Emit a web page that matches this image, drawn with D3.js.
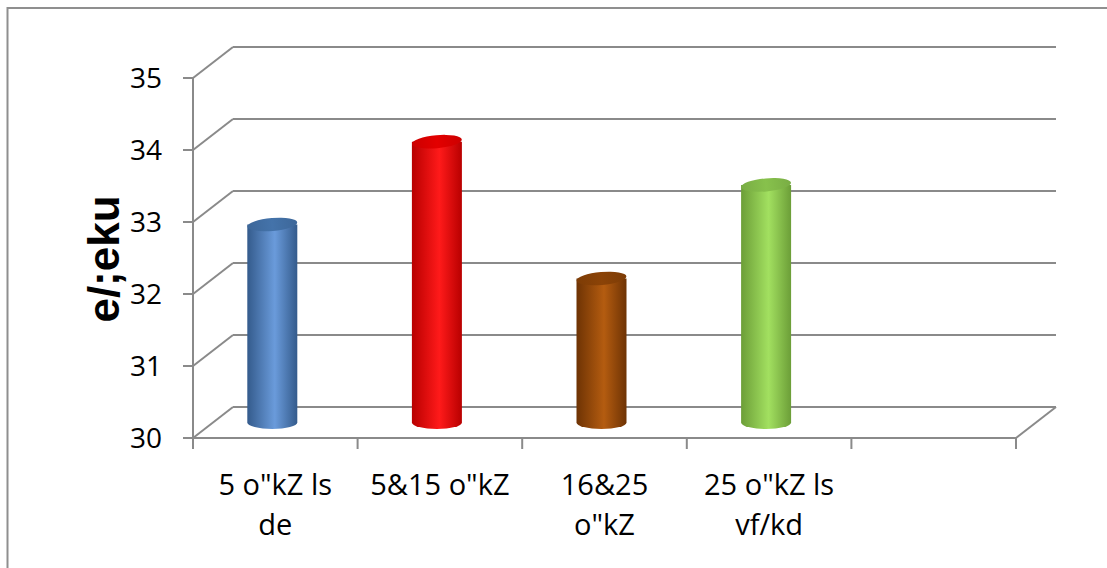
<!DOCTYPE html>
<html><head><meta charset="utf-8">
<script src="https://cdn.jsdelivr.net/npm/d3@7/dist/d3.min.js"></script>
<style>body{margin:0;background:#fff;}svg{display:block;}</style>
</head><body>
<svg id="c" width="1107" height="568"></svg>
<script>
const categories = ['5 o"kZ ls de', '5&15 o"kZ', '16&25 o"kZ', '25 o"kZ ls vf/kd', ''];
const labelLines = [['5 o"kZ ls', 'de'], ['5&15 o"kZ'], ['16&25', 'o"kZ'], ['25 o"kZ ls', 'vf/kd'], []];
const values = [32.75, 33.9, 32.0, 33.3, null];
const yTicks = [30, 31, 32, 33, 34, 35];
const yTitle = "e/;eku";
const barColors = [
  {edge:"#345b8c", mid:"#6a9bdb", top:"#3d6799"},
  {edge:"#b80000", mid:"#ff1a1a", top:"#cc0000"},
  {edge:"#6e3304", mid:"#b45c10", top:"#7d3c06"},
  {edge:"#6c9e38", mid:"#a2e060", top:"#79ad44"}
];

const svg = d3.select("#c");
const gridCol = "#8a8a8a";
const depthX = 40, depthY = -31;
const x0 = 193, x1 = 1016;
const y = d3.scaleLinear().domain([30, 35]).range([438, 78]);
const x = d3.scaleBand().domain(d3.range(categories.length)).range([x0, x1]).padding(0);

// chart border
svg.append("rect").attr("x", 7.5).attr("y", 8).attr("width", 1200).attr("height", 700)
  .attr("fill", "none").attr("stroke", "#8f8f8f").attr("stroke-width", 2);

const g = svg.append("g");
yTicks.forEach(t => {
  g.append("line").attr("x1", x0 + depthX).attr("x2", x1 + depthX)
    .attr("y1", y(t) + depthY).attr("y2", y(t) + depthY)
    .attr("stroke", gridCol).attr("stroke-width", 2);
  g.append("line").attr("x1", x0).attr("x2", x0 + depthX)
    .attr("y1", y(t)).attr("y2", y(t) + depthY)
    .attr("stroke", gridCol).attr("stroke-width", 2);
});
g.append("line").attr("x1", x1).attr("x2", x1 + depthX)
  .attr("y1", y(30)).attr("y2", y(30) + depthY).attr("stroke", gridCol).attr("stroke-width", 2);
g.append("line").attr("x1", x0).attr("x2", x1).attr("y1", y(30)).attr("y2", y(30))
  .attr("stroke", gridCol).attr("stroke-width", 2);
g.append("line").attr("x1", x0).attr("x2", x0).attr("y1", y(35)).attr("y2", y(30) + 11)
  .attr("stroke", gridCol).attr("stroke-width", 2);
yTicks.forEach(t => {
  g.append("line").attr("x1", x0 - 10).attr("x2", x0).attr("y1", y(t)).attr("y2", y(t))
    .attr("stroke", gridCol).attr("stroke-width", 2);
  g.append("text").attr("x", 162).attr("y", y(t) + 10).attr("text-anchor", "end")
    .attr("font-family", "Open Sans, Noto Sans, sans-serif").attr("font-size", 28).attr("fill", "#000")
    .text(t);
});
d3.range(categories.length + 1).forEach(i => {
  const xx = i < categories.length ? x(i) : x1;
  g.append("line").attr("x1", xx).attr("x2", xx).attr("y1", y(30)).attr("y2", y(30) + 11)
    .attr("stroke", gridCol).attr("stroke-width", 2);
});
labelLines.forEach((lines, i) => {
  const cx = x(i) + x.bandwidth() / 2;
  lines.forEach((ln, j) => {
    g.append("text").attr("x", cx).attr("y", 495 + j * 40).attr("text-anchor", "middle")
      .attr("font-family", "Open Sans, Noto Sans, sans-serif").attr("font-size", 29).attr("fill", "#000")
      .text(ln);
  });
});
svg.append("text").attr("transform", "translate(119,259) rotate(-90)")
  .attr("text-anchor", "middle").attr("font-family", "Liberation Sans, Arial, sans-serif")
  .attr("font-weight", "bold").attr("font-size", 44).attr("fill", "#000").text(yTitle);

const defs = svg.append("defs");
barColors.forEach((c, i) => {
  const lg = defs.append("linearGradient").attr("id", "gr" + i).attr("x1", "0").attr("x2", "1").attr("y1", "0").attr("y2", "0");
  lg.append("stop").attr("offset", "0").attr("stop-color", c.edge);
  lg.append("stop").attr("offset", "0.55").attr("stop-color", c.mid);
  lg.append("stop").attr("offset", "1").attr("stop-color", c.edge);
  const tg = defs.append("linearGradient").attr("id", "tg" + i).attr("x1", "0").attr("x2", "1").attr("y1", "0").attr("y2", "0");
  tg.append("stop").attr("offset", "0").attr("stop-color", c.top);
  tg.append("stop").attr("offset", "0.5").attr("stop-color", d3.color(c.top).brighter(0.3));
  tg.append("stop").attr("offset", "1").attr("stop-color", c.top);
});

const rx = 25, ry = 6.5, midOff = depthY / 2;
values.forEach((v, i) => {
  if (v == null) return;
  const cx = x(i) + x.bandwidth() / 2 - 3;
  const yb = y(30) + midOff, yt = y(v) + midOff;
  const bg = svg.append("g");
  bg.append("path")
    .attr("d", `M${cx - rx},${yt} L${cx - rx},${yb} A${rx},${ry} 0 0 0 ${cx + rx},${yb} L${cx + rx},${yt} Z`)
    .attr("fill", `url(#gr${i})`);
  bg.append("ellipse").attr("cx", cx).attr("cy", yt).attr("rx", rx).attr("ry", ry)
    .attr("transform", `rotate(-5,${cx},${yt})`)
    .attr("fill", `url(#tg${i})`);
});
</script>
</body></html>
